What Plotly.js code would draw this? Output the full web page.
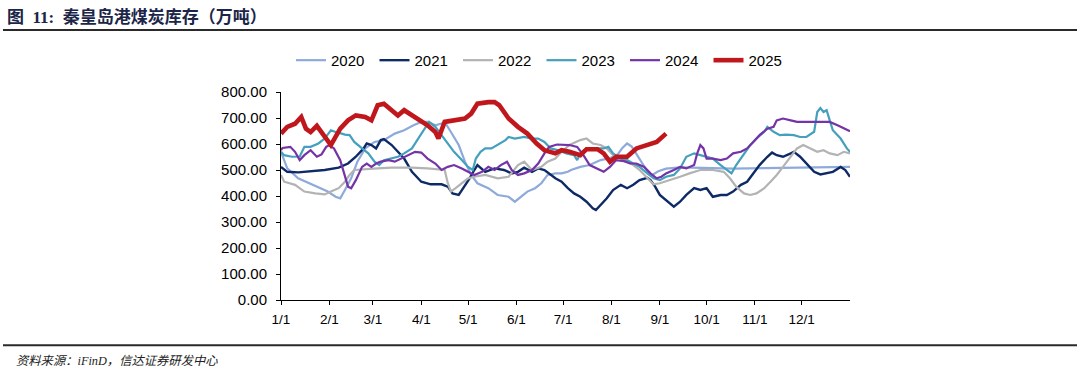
<!DOCTYPE html>
<html>
<head>
<meta charset="utf-8">
<script src="https://cdn.plot.ly/plotly-3.0.1.min.js"></script>
<style>
html,body{margin:0;padding:0;background:#fff;}
#chart{width:1080px;height:371px;}
</style>
</head>
<body>
<div id="chart"></div>
<script>
// ---- data (day of year, 0 = Jan 1) ----
const monthDays   = [0,31,59,90,120,151,181,212,243,273,304,334];
const monthLabels = ['1/1','2/1','3/1','4/1','5/1','6/1','7/1','8/1','9/1','10/1','11/1','12/1'];
const yTicks = [0,100,200,300,400,500,600,700,800];

const days2020 = [0,4,11,17,24,30,35,38,41,45,49,54,60,66,73,79,85,90,94,99,103,105,109,114,118,122,126,133,139,146,150,154,158,163,167,171,176,180,184,186,192,198,205,211,216,219,222,225,228,231,235,238,242,247,256,270,290,310,330,350,365];
const vals2020 = [570,506,468,452,436,417,397,391,423,468,532,583,608,615,640,653,672,685,685,672,679,685,646,596,532,481,449,430,404,397,378,397,417,430,449,481,487,487,493,500,512,519,538,545,560,585,602,590,560,530,495,480,495,505,510,508,505,507,508,510,512];

const days2021 = [0,4,11,19,28,37,43,48,53,55,58,61,64,66,71,75,79,84,86,90,96,103,107,110,114,117,121,124,126,131,137,143,148,152,156,161,165,169,176,180,184,188,192,196,200,202,205,209,213,218,222,226,230,235,237,240,243,247,252,256,260,265,269,273,277,282,286,290,295,299,303,307,312,315,318,322,327,329,333,337,342,346,350,354,359,362,365];
const vals2021 = [512,493,491,496,500,509,525,551,583,602,596,583,615,619,596,570,544,493,481,455,445,445,436,410,404,430,468,500,519,493,506,500,487,493,509,493,506,500,468,455,430,410,397,378,353,346,366,391,423,443,430,443,461,470,461,436,404,385,359,378,404,430,423,430,397,404,404,417,443,455,487,519,551,567,557,551,564,570,551,525,493,483,487,493,512,500,474];

const days2022 = [0,2,9,15,22,28,32,37,41,44,47,54,62,71,84,94,105,107,109,112,116,120,124,131,139,146,152,156,161,167,171,176,180,185,192,196,200,205,209,213,218,222,226,230,235,239,243,250,256,262,269,277,284,288,292,297,301,305,310,314,318,322,327,331,335,339,344,348,352,357,361,365];
const vals2022 = [481,455,443,417,410,406,417,430,455,481,500,504,506,509,509,506,500,449,417,430,449,468,474,481,468,474,519,532,500,512,532,544,570,596,615,621,602,596,583,557,544,532,519,500,468,445,449,461,474,487,500,500,493,468,436,410,404,410,430,455,481,512,551,583,596,583,570,576,564,557,570,564];

const days2023 = [0,2,7,12,15,19,24,28,32,35,39,41,44,47,52,56,60,63,66,71,75,79,84,88,92,95,99,103,107,111,116,120,123,125,128,131,135,139,144,146,150,156,161,165,169,173,178,183,188,190,192,196,200,207,210,213,218,222,226,230,235,239,243,247,252,256,260,265,269,273,277,282,286,289,292,297,301,305,310,312,316,320,324,329,333,337,342,344,346,348,350,352,354,359,363,365];
const vals2023 = [570,557,551,552,589,589,602,621,653,646,640,636,634,608,583,564,532,519,538,544,551,564,583,621,659,685,666,634,602,570,538,512,500,544,570,583,583,596,615,627,621,627,621,621,608,583,576,564,557,538,564,583,583,583,589,564,544,538,525,512,487,468,461,474,481,506,551,564,557,551,544,519,500,487,519,564,596,621,647,666,647,634,636,634,627,627,647,723,738,723,730,691,653,621,583,570];

const days2024 = [0,1,6,9,12,15,19,23,26,29,31,34,38,41,43,45,48,52,55,58,61,64,69,73,77,82,86,90,94,99,103,107,111,116,120,124,129,133,137,141,145,148,152,156,161,165,169,172,177,181,185,190,194,198,203,207,211,215,220,224,228,233,237,241,244,247,252,256,260,265,267,269,271,273,277,282,286,290,295,299,303,307,312,316,318,322,327,331,335,342,348,352,357,361,365];
const vals2024 = [576,585,589,570,538,557,576,551,560,589,596,583,538,481,436,430,461,512,525,512,525,532,538,532,544,557,570,567,544,525,500,512,519,506,493,481,493,512,500,519,532,500,481,487,500,525,564,589,598,596,596,589,557,519,504,493,512,538,534,525,525,512,487,468,474,487,500,512,506,519,564,596,583,544,544,538,544,564,570,583,608,634,659,666,691,698,691,685,685,685,687,685,672,659,649];

const days2025 = [0,4,9,13,16,19,23,27,32,38,43,48,54,58,62,66,71,75,79,84,88,94,99,101,105,111,118,122,126,133,137,140,146,152,158,164,169,176,180,185,192,196,203,207,211,215,222,228,235,241,247];
const vals2025 = [640,666,678,704,659,646,670,640,596,659,691,710,704,691,749,755,730,710,730,710,698,672,646,621,685,691,698,717,755,761,761,749,698,666,640,602,576,564,576,570,557,580,580,564,532,551,551,583,596,608,640];

const seriesNames  = ['2020','2021','2022','2023','2024','2025'];
const seriesDays   = [days2020,days2021,days2022,days2023,days2024,days2025];
const seriesVals   = [vals2020,vals2021,vals2022,vals2023,vals2024,vals2025];
const seriesColors = ['#8EAADB','#0E2A66','#B3B3B3','#45A0BE','#7433A6','#C0171C'];
const seriesWidths = [2.2,2.4,2.2,2.2,2.2,4.6];

const traces = seriesNames.map((n,i)=>({
  type:'scatter', mode:'lines', name:n,
  x:seriesDays[i], y:seriesVals[i],
  line:{color:seriesColors[i], width:seriesWidths[i]},
  hoverinfo:'skip'
}));

const FONT = 'Liberation Sans, Arial, sans-serif';
const plotL = 281, plotR = 850, plotT = 91.7, plotB = 300.5;
const pw = plotR - plotL, ph = plotB - plotT;
const px = v => (v - plotL)/pw;
const py = v => (plotB - v)/ph;

const layout = {
  width:1080, height:371,
  margin:{l:plotL, r:1080-plotR, t:plotT, b:371-plotB, pad:0},
  paper_bgcolor:'#ffffff', plot_bgcolor:'#ffffff',
  showlegend:true,
  legend:{orientation:'h', x:px(291), xanchor:'left', y:py(60), yanchor:'middle',
          font:{family:FONT, size:15, color:'#000'}, entrywidth:38.5, entrywidthmode:'pixels',
          bgcolor:'rgba(0,0,0,0)', traceorder:'normal'},
  xaxis:{range:[0,365], tickmode:'array', tickvals:monthDays, ticktext:monthLabels,
         showline:true, linecolor:'#000', linewidth:1, ticks:'outside', ticklen:4, tickcolor:'#000',
         showgrid:false, zeroline:false, tickfont:{family:FONT, size:13.5, color:'#000'}, ticklabelstandoff:3, fixedrange:true},
  yaxis:{range:[0,800], tickmode:'array', tickvals:yTicks, tickformat:'.2f',
         showline:true, linecolor:'#000', linewidth:1, ticks:'outside', ticklen:4, tickcolor:'#000',
         showgrid:false, zeroline:false, tickfont:{family:FONT, size:15, color:'#000'}, ticklabelstandoff:6, fixedrange:true},
  title:{text:'<b>图\u00a0\u00a011:\u00a0\u00a0秦皇岛港煤炭库存（万吨）</b>', xref:'container', yref:'container',
         x:7/1080, xanchor:'left', y:1-17/371, yanchor:'middle',
         font:{family:'Liberation Serif, Noto Sans CJK SC, serif', size:17, color:'#1a2548'}},
  shapes:[
    {type:'line', xref:'paper', yref:'paper', x0:px(3), x1:px(1077), y0:py(29.5), y1:py(29.5), line:{color:'#2a2a2a', width:2}},
    {type:'line', xref:'paper', yref:'paper', x0:px(3), x1:px(1077), y0:py(346), y1:py(346), line:{color:'#2a2a2a', width:2}}
  ],
  annotations:[
    {text:'<i>资料来源：iFinD，信达证券研发中心</i>', xref:'paper', yref:'paper', x:px(14), y:py(362),
     xanchor:'left', yanchor:'middle', showarrow:false,
     font:{family:'Liberation Serif, Noto Sans CJK SC, serif', size:12.3, color:'#222'}}
  ]
};

Plotly.newPlot('chart', traces, layout, {displayModeBar:false, staticPlot:true});
</script>
</body>
</html>
